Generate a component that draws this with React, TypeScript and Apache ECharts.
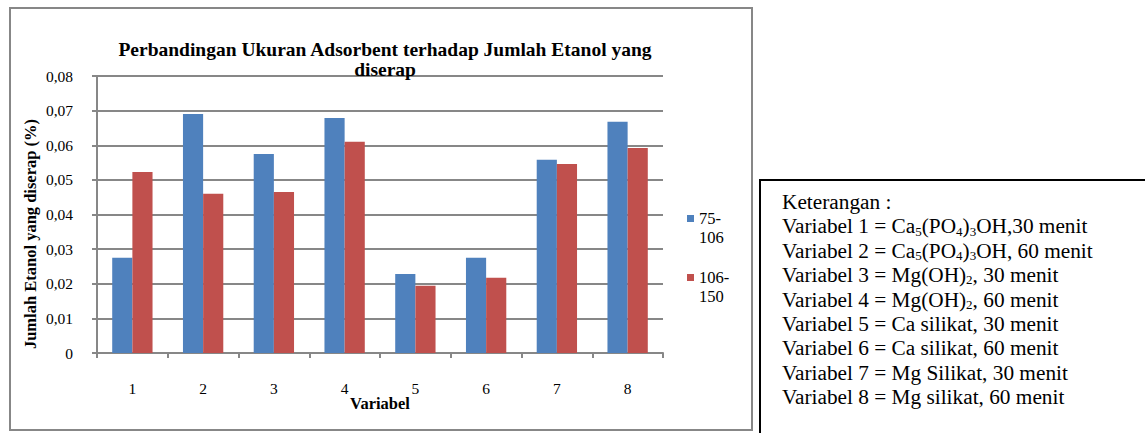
import React, { useEffect, useRef } from "react";
import * as echarts from "echarts";

const categories = ["1", "2", "3", "4", "5", "6", "7", "8"];
const seriesNames = ["75-106", "106-150"];
const values75to106 = [0.0275, 0.069, 0.0575, 0.0679, 0.0228, 0.0275, 0.0558, 0.0668];
const values106to150 = [0.0523, 0.046, 0.0465, 0.061, 0.0194, 0.0217, 0.0546, 0.0592];
const seriesColors = ["#4F81BD", "#C0504D"];
const yMin = 0;
const yMax = 0.08;
const yStep = 0.01;

const titleText = "Perbandingan Ukuran Adsorbent terhadap Jumlah Etanol yang\ndiserap";
const yAxisTitle = "Jumlah Etanol yang diserap (%)";
const xAxisTitle = "Variabel";

// "_d" marks a subscript digit
const noteLines = [
  "Keterangan :",
  "Variabel 1 = Ca_5(PO_4)_3OH,30 menit",
  "Variabel 2 = Ca_5(PO_4)_3OH, 60 menit",
  "Variabel 3 = Mg(OH)_2, 30 menit",
  "Variabel 4 = Mg(OH)_2, 60 menit",
  "Variabel 5 = Ca silikat, 30 menit",
  "Variabel 6 = Ca silikat, 60 menit",
  "Variabel 7 = Mg Silikat, 30 menit",
  "Variabel 8 = Mg silikat, 60 menit",
];

const FONT = "'Liberation Serif', serif";
const GRAY = "#878787";

const NOTE_X = 782;
const NOTE_Y0 = 202;
const NOTE_LH = 24.4;
const NOTE_FS = 21.3;
const SUB_FS = 13;

function buildNoteGraphics(): any[] {
  const canvas = document.createElement("canvas");
  const ctx = canvas.getContext("2d") as CanvasRenderingContext2D;
  const out: any[] = [];
  noteLines.forEach((line, li) => {
    const cy = NOTE_Y0 + li * NOTE_LH;
    const segs: { t: string; sub: boolean }[] = [];
    let buf = "";
    for (let i = 0; i < line.length; i++) {
      if (line[i] === "_" && i + 1 < line.length) {
        if (buf) segs.push({ t: buf, sub: false });
        buf = "";
        segs.push({ t: line[i + 1], sub: true });
        i++;
      } else buf += line[i];
    }
    if (buf) segs.push({ t: buf, sub: false });
    let x = NOTE_X;
    segs.forEach((s) => {
      const font = `${s.sub ? SUB_FS : NOTE_FS}px ${FONT}`;
      ctx.font = font;
      out.push({
        type: "text",
        x,
        y: s.sub ? cy + 4.7 : cy,
        z: 10,
        style: { text: s.t, font, fill: "#000", align: "left", verticalAlign: "middle" },
      });
      x += ctx.measureText(s.t).width;
    });
  });
  return out;
}

export default function App() {
  const ref = useRef<HTMLDivElement>(null);
  useEffect(() => {
    if (!ref.current) return;
    const chart = echarts.init(ref.current, null, { renderer: "svg" });
    const option: any = {
      animation: false,
      backgroundColor: "#ffffff",
      title: {
        text: titleText,
        left: 385,
        top: 39,
        padding: 0,
        textAlign: "center",
        textStyle: {
          fontFamily: FONT,
          fontSize: 19.5,
          fontWeight: "bold",
          color: "#000",
          lineHeight: 20,
        },
      },
      legend: {
        orient: "vertical",
        left: 687,
        top: 209,
        padding: 0,
        itemWidth: 7,
        itemHeight: 26,
        itemGap: 21,
        icon: "path://M0,0H7V7H0Z M0,26H7V26H0Z",
        data: seriesNames,
        formatter: (name: string) => name.replace("-", "-\n"),
        textStyle: {
          fontFamily: FONT,
          fontSize: 16.5,
          color: "#000",
          lineHeight: 19,
        },
      },
      grid: { left: 97, right: 482, top: 76, bottom: 80, containLabel: false },
      xAxis: {
        type: "category",
        data: categories,
        name: xAxisTitle,
        nameLocation: "middle",
        nameGap: 42,
        nameMoveOverlap: false,
        nameTextStyle: { fontFamily: FONT, fontSize: 16.5, fontWeight: "bold", color: "#000" },
        axisLine: { show: true, lineStyle: { color: GRAY, width: 2 } },
        axisTick: { show: true, length: 5, alignWithLabel: false, lineStyle: { color: GRAY, width: 2 } },
        axisLabel: { fontFamily: FONT, fontSize: 15.5, color: "#000", margin: 27 },
      },
      yAxis: {
        type: "value",
        min: yMin,
        max: yMax,
        interval: yStep,
        axisLine: { show: true, lineStyle: { color: GRAY, width: 2 } },
        axisTick: { show: true, length: 5, lineStyle: { color: GRAY, width: 2 } },
        splitLine: { show: true, lineStyle: { color: GRAY, width: 2 } },
        axisLabel: {
          fontFamily: FONT,
          fontSize: 15.5,
          color: "#000",
          margin: 24,
          formatter: (v: number) => (v === 0 ? "0" : v.toFixed(2).replace(".", ",")),
        },
      },
      series: [
        {
          name: seriesNames[0],
          type: "bar",
          data: values75to106,
          itemStyle: { color: seriesColors[0] },
          barGap: "0%",
          barCategoryGap: "43%",
        },
        {
          name: seriesNames[1],
          type: "bar",
          data: values106to150,
          itemStyle: { color: seriesColors[1] },
          barGap: "0%",
          barCategoryGap: "43%",
        },
      ],
      graphic: [
        {
          type: "rect",
          z: -1,
          shape: { x: 10, y: 8, width: 742, height: 422 },
          style: { fill: "none", stroke: GRAY, lineWidth: 2 },
        },
        {
          type: "text",
          x: 30,
          y: 234,
          rotation: Math.PI / 2,
          style: {
            text: yAxisTitle,
            font: `bold 16.5px ${FONT}`,
            fill: "#000",
            align: "center",
            verticalAlign: "middle",
          },
        },
        {
          type: "rect",
          z: 5,
          shape: { x: 760, y: 180, width: 500, height: 300 },
          style: { fill: "#fff", stroke: "#000", lineWidth: 2 },
        },
        ...buildNoteGraphics(),
      ],
    };
    chart.setOption(option);
    return () => chart.dispose();
  }, []);
  return (
    <div
      ref={ref}
      style={{ position: "absolute", left: 0, top: 0, width: 1145, height: 433 }}
    />
  );
}
